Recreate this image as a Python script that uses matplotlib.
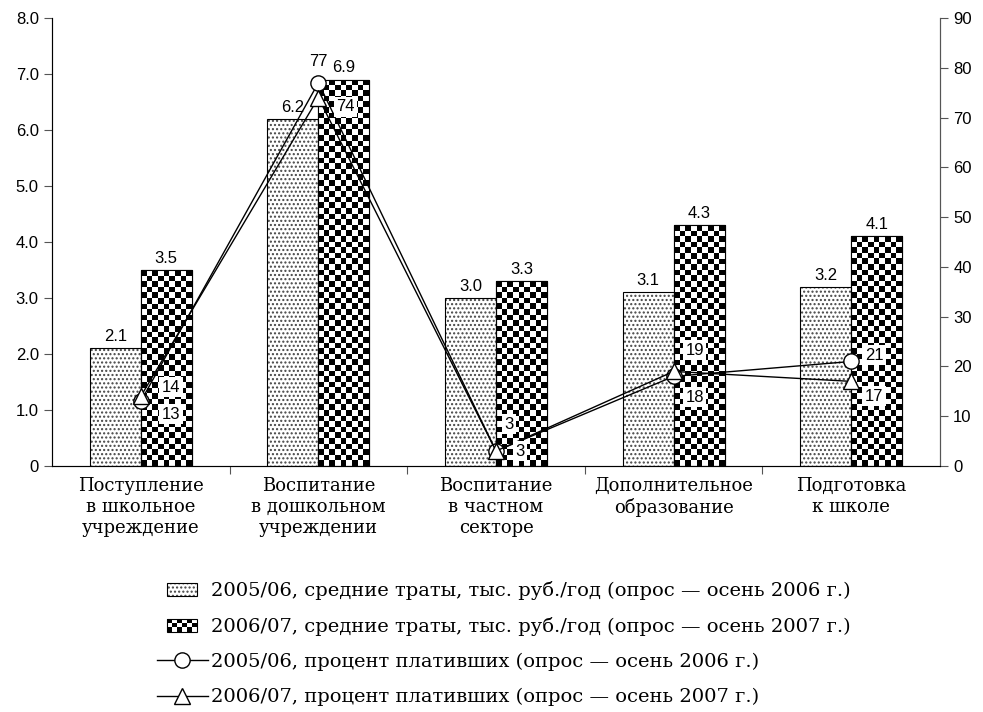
import numpy as np
import matplotlib.pyplot as plt
from matplotlib.patches import Rectangle
from matplotlib.lines import Line2D
from matplotlib.legend_handler import HandlerBase
from matplotlib.ticker import FuncFormatter, MultipleLocator

categories = ['Поступление\nв школьное\nучреждение',
              'Воспитание\nв дошкольном\nучреждении',
              'Воспитание\nв частном\nсекторе',
              'Дополнительное\nобразование',
              'Подготовка\nк школе']
spend_0506 = [2.1, 6.2, 3.0, 3.1, 3.2]
spend_0607 = [3.5, 6.9, 3.3, 4.3, 4.1]
paid_0506 = [13, 77, 3, 18, 21]
paid_0607 = [14, 74, 3, 19, 17]
legend_labels = [
    '2005/06, средние траты, тыс. руб./год (опрос — осень 2006 г.)',
    '2006/07, средние траты, тыс. руб./год (опрос — осень 2007 г.)',
    '2005/06, процент плативших (опрос — осень 2006 г.)',
    '2006/07, процент плативших (опрос — осень 2007 г.)',
]

# label offsets for line points, in pixels (right, up)
circle_off = [(30, -13), (0, 21), (13, 27), (21, -21), (23, 6)]
tri_off = [(30, 9), (27, -9), (24, 0), (21, 21), (23, -15)]

SANS = 'Liberation Sans'
SERIF = 'DejaVu Serif'
DOTS = '#444444'


class SwatchHandler(HandlerBase):
    """small legend swatch, dotted or checkered"""
    def __init__(self, checker):
        super().__init__()
        self.checker = checker

    def create_artists(self, legend, orig_handle, xdescent, ydescent,
                       width, height, fontsize, trans):
        sw = width * 0.6
        x0 = -xdescent + (width - sw) / 2
        y0 = -ydescent
        arts = []
        if self.checker:
            nx, ny = 6, 3
            cw, ch = sw / nx, height / ny
            for i in range(nx):
                for j in range(ny):
                    if (i + j) % 2 == 0:
                        arts.append(Rectangle((x0 + i * cw, y0 + j * ch), cw, ch,
                                              facecolor='black', lw=0, transform=trans))
        else:
            arts.append(Rectangle((x0, y0), sw, height, facecolor='white', edgecolor=DOTS,
                                  hatch='....', lw=0, transform=trans))
        arts.append(Rectangle((x0, y0), sw, height, facecolor='none',
                              edgecolor='black', lw=0.8, transform=trans))
        return arts


fig = plt.figure(figsize=(9.83, 7.12), dpi=100)
ax = fig.add_axes([52 / 983, 1 - 466 / 712, 888 / 983, 448 / 712])

x = np.arange(len(categories))
w = 0.287

plt.rcParams['hatch.linewidth'] = 1.0
light = ax.bar(x - w / 2, spend_0506, w, facecolor='white', edgecolor=DOTS,
               hatch='....', linewidth=0, zorder=2)
ax.bar(x - w / 2, spend_0506, w, facecolor='none', edgecolor='black', linewidth=0.8, zorder=3)
dark = ax.bar(x + w / 2, spend_0607, w, facecolor='white', edgecolor='black',
              linewidth=0.8, zorder=2)

# checkerboard fill of the dark bars
for rect in dark:
    x0, bw, bh = rect.get_x(), rect.get_width(), rect.get_height()
    ny = int(np.ceil(bh / 0.1))
    img = np.add.outer(np.arange(ny), np.arange(9)) % 2
    im = ax.imshow(img, cmap='gray', extent=(x0, x0 + bw, 0, ny * 0.1), origin='lower',
                   interpolation='nearest', aspect='auto', zorder=2.5)
    im.set_clip_path(rect)
ax.bar(x + w / 2, spend_0607, w, facecolor='none', edgecolor='black', linewidth=0.8, zorder=3)

for bars in (light, dark):
    ax.bar_label(bars, fmt='%.1f', padding=3, fontsize=12, family=SANS)

ax.set_xlim(-0.5, 4.5)
ax.set_ylim(0, 8)
ax.yaxis.set_major_locator(MultipleLocator(1))
ax.yaxis.set_major_formatter(FuncFormatter(lambda v, p: '0' if v == 0 else f'{v:.1f}'))
ax.set_xticks(x[:-1] + 0.5)
ax.set_xticklabels([])
ax.set_xticks(x, categories, minor=True)
ax.tick_params(axis='x', which='major', length=6, width=0.8, color='#555555')
ax.tick_params(axis='x', which='minor', length=0, pad=8)
ax.tick_params(axis='y', length=6, width=0.8, color='#555555', labelsize=12)
for lab in ax.get_xticklabels(minor=True):
    lab.set_fontfamily(SERIF)
    lab.set_fontsize(13)
for lab in ax.get_yticklabels():
    lab.set_fontfamily(SANS)
ax.spines['top'].set_visible(False)
for s in ('left', 'right', 'bottom'):
    ax.spines[s].set_color('#555555')
    ax.spines[s].set_linewidth(0.8)

ax2 = ax.twinx()
ax2.set_ylim(0, 90)
ax2.yaxis.set_major_locator(MultipleLocator(10))
ax2.tick_params(axis='y', length=6, width=0.8, color='#555555', labelsize=12)
for lab in ax2.get_yticklabels():
    lab.set_fontfamily(SANS)
ax2.spines['top'].set_visible(False)
ax2.spines['right'].set_color('#555555')
ax2.spines['right'].set_linewidth(0.8)

ax2.plot(x, paid_0506, color='black', lw=1, marker='o', ms=11, mfc='white', mec='black', mew=1, zorder=4)
ax2.plot(x, paid_0607, color='black', lw=1, marker='^', ms=11, mfc='white', mec='black', mew=1, zorder=5)

box = dict(boxstyle='square,pad=0.15', fc='white', ec='none')
for i in range(len(x)):
    for vals, offs in ((paid_0506, circle_off), (paid_0607, tri_off)):
        dx, dy = offs[i]
        ax2.annotate(str(vals[i]), (x[i], vals[i]), xytext=(dx * 0.72, dy * 0.72),
                     textcoords='offset points', ha='center', va='center',
                     fontsize=12, family=SANS, zorder=6,
                     bbox=None if vals[i] == 77 else box)

handles = [
    Rectangle((0, 0), 1, 1),
    Rectangle((0, 0), 1, 1),
    Line2D([], [], color='black', lw=1, marker='o', ms=11, mfc='white', mec='black'),
    Line2D([], [], color='black', lw=1, marker='^', ms=11, mfc='white', mec='black'),
]
leg = fig.legend(handles, legend_labels, loc='upper left', bbox_to_anchor=(157 / 983, 1 - 581 / 712),
                 frameon=False, numpoints=1, handlelength=2.6, handleheight=0.65,
                 handletextpad=0.2, labelspacing=0.87, borderpad=0, borderaxespad=0,
                 prop={'family': SERIF, 'size': 14},
                 handler_map={handles[0]: SwatchHandler(False), handles[1]: SwatchHandler(True)})

fig.savefig('out.png', dpi=100)
